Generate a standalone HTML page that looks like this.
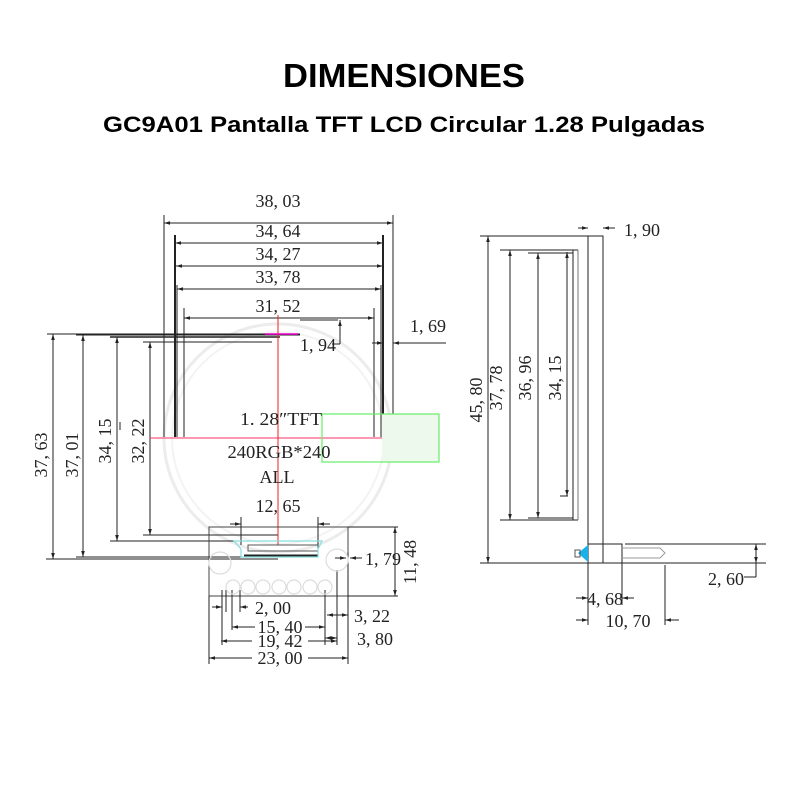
<!DOCTYPE html>
<html><head><meta charset="utf-8"><style>
html,body{margin:0;padding:0;background:#fff;}
svg{display:block}
.t{font-family:"Liberation Serif",serif;font-size:18px;fill:#222}
.h{font-family:"Liberation Sans",sans-serif;font-weight:bold;fill:#000}
</style></head><body>
<svg width="800" height="800" viewBox="0 0 800 800" xmlns="http://www.w3.org/2000/svg">
<defs>
<marker id="a" viewBox="0 0 10 10" refX="10" refY="5" markerWidth="6" markerHeight="6" orient="auto-start-reverse"><path d="M0,2 L10,5 L0,8 z" fill="#222"/></marker>
</defs>
<text class="h" x="404" y="87" font-size="33" text-anchor="middle" textLength="242" lengthAdjust="spacingAndGlyphs">DIMENSIONES</text>
<text class="h" x="404" y="132" font-size="22" text-anchor="middle" textLength="602" lengthAdjust="spacingAndGlyphs">GC9A01 Pantalla TFT LCD Circular 1.28 Pulgadas</text>

<circle cx="278" cy="438" r="114" fill="none" stroke="#ececec" stroke-width="3"/>
<circle cx="278" cy="438" r="106" fill="none" stroke="#f3f3f3" stroke-width="2"/>

<g stroke="#222" stroke-width="1" fill="none">
<line x1="164" y1="215" x2="164" y2="437"/>
<line x1="393" y1="215" x2="393" y2="437"/>
<line x1="175" y1="235" x2="175" y2="437" stroke-width="2"/>
<line x1="383" y1="235" x2="383" y2="437" stroke-width="2"/>
<line x1="184" y1="308" x2="184" y2="437"/>
<line x1="374" y1="308" x2="374" y2="437"/>
<line x1="177" y1="285" x2="177" y2="437"/>
<line x1="381" y1="285" x2="381" y2="437"/>
<line x1="164" y1="223" x2="393" y2="223" marker-start="url(#a)" marker-end="url(#a)"/>
<line x1="175" y1="243" x2="383" y2="243" marker-start="url(#a)" marker-end="url(#a)"/>
<line x1="176" y1="266" x2="383" y2="266" marker-start="url(#a)" marker-end="url(#a)"/>
<line x1="177" y1="289" x2="381" y2="289" marker-start="url(#a)" marker-end="url(#a)"/>
<line x1="184" y1="318" x2="374" y2="318" marker-start="url(#a)" marker-end="url(#a)"/>
<line x1="300" y1="320" x2="338" y2="320"/>
<line x1="340" y1="320" x2="340" y2="341" marker-start="url(#a)"/>
<line x1="332" y1="344" x2="340" y2="344"/><line x1="340" y1="341" x2="340" y2="344"/>
<line x1="372" y1="343" x2="383" y2="343" marker-end="url(#a)"/>
<line x1="393" y1="343" x2="446" y2="343" marker-start="url(#a)"/>
<line x1="47" y1="334" x2="300" y2="334"/>
<line x1="76" y1="335" x2="300" y2="335"/>
<line x1="110" y1="337" x2="280" y2="337" stroke-width="1.4"/>
<line x1="143" y1="342" x2="272" y2="342"/>
<line x1="46" y1="559" x2="278" y2="559"/>
<line x1="76" y1="557" x2="278" y2="557"/>
<line x1="110" y1="541" x2="278" y2="541"/>
<line x1="143" y1="535" x2="278" y2="535"/>
<line x1="53" y1="334" x2="53" y2="559" marker-start="url(#a)" marker-end="url(#a)"/>
<line x1="83" y1="335" x2="83" y2="557" marker-start="url(#a)" marker-end="url(#a)"/>
<line x1="117" y1="337" x2="117" y2="541" marker-start="url(#a)" marker-end="url(#a)"/>
<line x1="150" y1="342" x2="150" y2="535" marker-start="url(#a)" marker-end="url(#a)"/>
<line x1="120" y1="422" x2="120" y2="430"/>
</g>
<line x1="150" y1="438" x2="411" y2="438" stroke="#f36" stroke-width="1"/>
<line x1="278" y1="315" x2="278" y2="545" stroke="#e22" stroke-width="1"/>
<line x1="265" y1="334" x2="298" y2="334" stroke="#e0c" stroke-width="1.5"/>
<rect x="382" y="414" width="57" height="48" fill="#eef9ee"/>
<rect x="322" y="414" width="117" height="48" fill="none" stroke="#6e6" stroke-width="1.2"/>

<text class="t" x="278" y="207" text-anchor="middle">38, 03</text>
<text class="t" x="278" y="237" text-anchor="middle">34, 64</text>
<text class="t" x="278" y="260" text-anchor="middle">34, 27</text>
<text class="t" x="278" y="283" text-anchor="middle">33, 78</text>
<text class="t" x="278" y="312" text-anchor="middle">31, 52</text>
<text class="t" x="318" y="351" text-anchor="middle">1, 94</text>
<text class="t" x="428" y="332" text-anchor="middle">1, 69</text>
<text class="t" transform="translate(47,455) rotate(-90)" text-anchor="middle">37, 63</text>
<text class="t" transform="translate(78,455) rotate(-90)" text-anchor="middle">37, 01</text>
<text class="t" transform="translate(111,441) rotate(-90)" text-anchor="middle">34, 15</text>
<text class="t" transform="translate(144,441) rotate(-90)" text-anchor="middle">32, 22</text>
<text class="t" x="281" y="425" text-anchor="middle" font-size="19" textLength="82" lengthAdjust="spacingAndGlyphs">1. 28″TFT</text>
<text class="t" x="279" y="458" text-anchor="middle" font-size="19" textLength="103" lengthAdjust="spacingAndGlyphs">240RGB*240</text>
<text class="t" x="277" y="483" text-anchor="middle" font-size="19">ALL</text>

<g stroke="#222" stroke-width="1" fill="none">
<rect x="209" y="527" width="139" height="69" stroke="#444"/>
<line x1="241" y1="517" x2="241" y2="545"/><line x1="318" y1="517" x2="318" y2="545"/>
<line x1="230" y1="524" x2="241" y2="524" marker-end="url(#a)"/>
<line x1="318" y1="524" x2="330" y2="524" marker-start="url(#a)"/>
<rect x="248" y="545" width="70" height="6" stroke="#555"/>
<line x1="244" y1="556" x2="318" y2="556" stroke-width="3"/>
<line x1="348" y1="527" x2="398" y2="527"/><line x1="348" y1="596" x2="398" y2="596"/>
<line x1="395" y1="527" x2="395" y2="596" marker-start="url(#a)" marker-end="url(#a)"/>
<line x1="335" y1="558" x2="346" y2="558" marker-end="url(#a)"/>
<line x1="350" y1="558" x2="362" y2="558" marker-start="url(#a)"/>
<line x1="348" y1="552" x2="348" y2="600"/>
<line x1="222" y1="590" x2="222" y2="645"/><line x1="226" y1="590" x2="226" y2="612"/><line x1="232" y1="590" x2="232" y2="630"/><line x1="240" y1="590" x2="240" y2="612"/>
<line x1="325" y1="590" x2="325" y2="645"/><line x1="337" y1="570" x2="337" y2="645"/><line x1="348" y1="596" x2="348" y2="620"/>
<line x1="209" y1="596" x2="209" y2="664"/><line x1="348" y1="620" x2="348" y2="664"/>
<line x1="212" y1="607" x2="222" y2="607" marker-end="url(#a)"/>
<line x1="240" y1="607" x2="248" y2="607" marker-start="url(#a)"/>
<line x1="327" y1="615" x2="337" y2="615" marker-start="url(#a)"/>
<line x1="337" y1="615" x2="348" y2="615" marker-end="url(#a)"/>
<line x1="232" y1="627" x2="255" y2="627" marker-start="url(#a)"/>
<line x1="305" y1="627" x2="325" y2="627" marker-end="url(#a)"/>
<line x1="325" y1="638" x2="337" y2="638" marker-start="url(#a)" marker-end="url(#a)"/>
<line x1="221" y1="641" x2="252" y2="641" marker-start="url(#a)"/>
<line x1="308" y1="641" x2="337" y2="641" marker-end="url(#a)"/>
<line x1="209" y1="658" x2="252" y2="658" marker-start="url(#a)"/>
<line x1="308" y1="658" x2="348" y2="658" marker-end="url(#a)"/>
</g>
<g fill="none" stroke="#ddd" stroke-width="1.2">
<path d="M234,541 L322,541 L318,549 L318,557 L241,557 L241,549 Z" stroke="#8dd"/>
<circle cx="220" cy="563" r="11"/><circle cx="337" cy="560" r="11"/>
<circle cx="233" cy="587" r="7"/><circle cx="248" cy="587" r="7"/><circle cx="263" cy="587" r="7"/><circle cx="279" cy="587" r="7"/><circle cx="294" cy="587" r="7"/><circle cx="310" cy="587" r="7"/><circle cx="325" cy="587" r="7"/>
</g>
<text class="t" x="278" y="512" text-anchor="middle">12, 65</text>
<text class="t" x="383" y="565" text-anchor="middle">1, 79</text>
<text class="t" transform="translate(416,562) rotate(-90)" text-anchor="middle">11, 48</text>
<text class="t" x="273" y="614" text-anchor="middle">2, 00</text>
<text class="t" x="372" y="622" text-anchor="middle">3, 22</text>
<text class="t" x="280" y="633" text-anchor="middle">15, 40</text>
<text class="t" x="375" y="645" text-anchor="middle">3, 80</text>
<text class="t" x="280" y="647" text-anchor="middle">19, 42</text>
<text class="t" x="280" y="664" text-anchor="middle">23, 00</text>

<g stroke="#222" stroke-width="1" fill="none">
<rect x="588" y="236" width="15" height="327"/>
<line x1="480" y1="236" x2="588" y2="236"/>
<line x1="480" y1="563" x2="766" y2="563"/>
<line x1="488" y1="236" x2="488" y2="563" marker-start="url(#a)" marker-end="url(#a)"/>
<line x1="500" y1="250" x2="578" y2="250"/><line x1="500" y1="520" x2="578" y2="520"/>
<line x1="510" y1="250" x2="510" y2="520" marker-start="url(#a)" marker-end="url(#a)"/>
<line x1="528" y1="253" x2="573" y2="253"/><line x1="528" y1="518" x2="573" y2="518"/>
<line x1="538" y1="253" x2="538" y2="518" marker-start="url(#a)" marker-end="url(#a)"/>
<line x1="567" y1="252" x2="567" y2="496" marker-start="url(#a)" marker-end="url(#a)"/>
<line x1="560" y1="496" x2="568" y2="496"/>
<line x1="573" y1="250" x2="573" y2="520"/><line x1="578" y1="250" x2="578" y2="520" stroke="#777"/>
<line x1="578" y1="228" x2="588" y2="228" marker-end="url(#a)"/>
<line x1="603" y1="228" x2="615" y2="228" marker-start="url(#a)"/>
<rect x="588" y="544" width="34" height="19"/>
<line x1="603" y1="544" x2="603" y2="563"/>
<path d="M622,548 L660,548 L665,553 L660,558 L622,558" stroke="#999"/>
<line x1="625" y1="544" x2="766" y2="544"/>
<line x1="756" y1="544" x2="756" y2="563" marker-start="url(#a)" marker-end="url(#a)"/>
<line x1="744" y1="577" x2="756" y2="577"/><line x1="756" y1="563" x2="756" y2="577"/>
<line x1="588" y1="563" x2="588" y2="625"/><line x1="622" y1="563" x2="622" y2="605"/><line x1="665" y1="565" x2="665" y2="625"/>
<line x1="576" y1="598" x2="588" y2="598" marker-end="url(#a)"/>
<line x1="622" y1="598" x2="634" y2="598" marker-start="url(#a)"/>
<line x1="576" y1="620" x2="588" y2="620" marker-end="url(#a)"/>
<line x1="665" y1="620" x2="679" y2="620" marker-start="url(#a)"/>
</g>
<path d="M588,545 L588,562 L580,555 L578,553 Z" fill="#1ab0e8"/>
<rect x="575" y="550" width="5" height="7" fill="none" stroke="#555"/>
<text class="t" x="642" y="236" text-anchor="middle">1, 90</text>
<text class="t" transform="translate(482,400) rotate(-90)" text-anchor="middle">45, 80</text>
<text class="t" transform="translate(502,388) rotate(-90)" text-anchor="middle">37, 78</text>
<text class="t" transform="translate(531,378) rotate(-90)" text-anchor="middle">36, 96</text>
<text class="t" transform="translate(561,378) rotate(-90)" text-anchor="middle">34, 15</text>
<text class="t" x="726" y="585" text-anchor="middle">2, 60</text>
<text class="t" x="605" y="605" text-anchor="middle">4, 68</text>
<text class="t" x="628" y="627" text-anchor="middle">10, 70</text>
</svg>
</body></html>
